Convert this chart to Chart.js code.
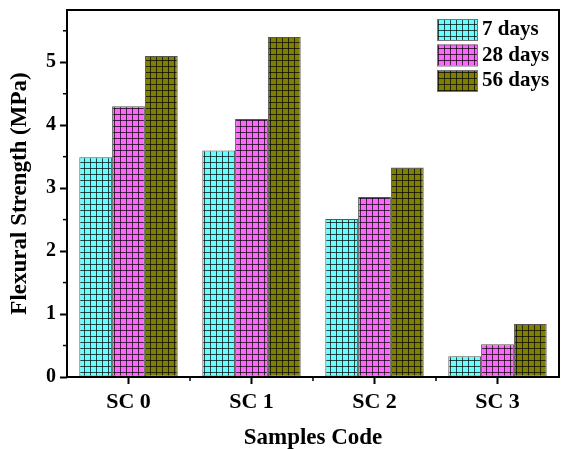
<!DOCTYPE html>
<html>
<head>
<meta charset="utf-8">
<script src="https://cdn.jsdelivr.net/npm/chart.js@4.4.1/dist/chart.umd.min.js"></script>
<style>
html,body{margin:0;padding:0;background:#fff;}
</style>
</head>
<body>
<canvas id="chart" width="561" height="449"></canvas>
<script>
const categories=['SC 0','SC 1','SC 2','SC 3'];
const days7=[3.49,3.60,2.51,0.33];
const days28=[4.30,4.10,2.86,0.52];
const days56=[5.10,5.40,3.33,0.84];
const seriesNames=['7 days','28 days','56 days'];
const yTicks=[0,1,2,3,4,5];
const yMinorTicks=[0.5,1.5,2.5,3.5,4.5,5.5];

const FONT='"Liberation Serif", "Times New Roman", serif';

// grid hatch like the origin plot fill
function gridPattern(fill){
    const c=document.createElement('canvas');
    c.width=6; c.height=6;
    const g=c.getContext('2d');
    g.fillStyle=fill;
    g.fillRect(0,0,6,6);
    g.fillStyle='rgba(0,0,0,0.7)';
    g.fillRect(0,0,6,1);
    g.fillRect(0,0,1,6);
    return document.createElement('canvas').getContext('2d').createPattern(c,'repeat');
}
const fills=[gridPattern('#66ffff'),gridPattern('#ff66ff'),gridPattern('#808000')];

const framePlugin={
    id:'frame',
    afterDraw(chart){
        const {ctx,chartArea:a,scales}=chart;
        ctx.save();
        ctx.strokeStyle='#000';
        ctx.lineWidth=2;
        ctx.strokeRect(a.left,a.top,a.right-a.left,a.bottom-a.top);
        // minor ticks on y
        ctx.lineWidth=1.5;
        yMinorTicks.forEach(v=>{
            const y=scales.y.getPixelForValue(v);
            ctx.beginPath();
            ctx.moveTo(a.left-4,y);
            ctx.lineTo(a.left,y);
            ctx.stroke();
        });
        // minor ticks on x, between the groups
        const step=(a.right-a.left)/categories.length;
        for(let i=1;i<categories.length;i++){
            const x=scales.x.getPixelForValue(i)-step/2;
            ctx.beginPath();
            ctx.moveTo(x,a.bottom);
            ctx.lineTo(x,a.bottom+4);
            ctx.stroke();
        }
        // legend inside the plot, top right
        ctx.font='bold 21px '+FONT;
        ctx.textBaseline='middle';
        ctx.textAlign='left';
        chart.data.datasets.forEach((ds,i)=>{
            const bx=437, by=19+i*25.5;
            ctx.fillStyle=ds.backgroundColor;
            ctx.fillRect(bx,by,40,21);
            ctx.strokeStyle='#777';
            ctx.lineWidth=1;
            ctx.strokeRect(bx+0.5,by+0.5,40,21);
            ctx.fillStyle='#000';
            ctx.fillText(ds.label,482,by+11);
        });
        ctx.restore();
    }
};

const ctx=document.getElementById('chart').getContext('2d');
new Chart(ctx,{
    type:'bar',
    data:{
        labels:categories,
        datasets:[days7,days28,days56].map((d,i)=>({
            label:seriesNames[i],
            data:d,
            backgroundColor:fills[i],
            borderColor:'#555',
            borderWidth:1,
            borderSkipped:false
        }))
    },
    options:{
        responsive:false,
        animation:false,
        layout:{padding:{top:10,right:2,left:0,bottom:0}},
        plugins:{
            legend:{display:false},
            tooltip:{enabled:false}
        },
        datasets:{bar:{barPercentage:1,categoryPercentage:0.8}},
        scales:{
            x:{
                grid:{display:true,drawOnChartArea:false,offset:false,tickLength:7,tickWidth:2,tickColor:'#000'},
                border:{display:false},
                ticks:{color:'#000',padding:5,font:{family:FONT,size:22,weight:'bold'}},
                title:{display:true,text:'Samples Code',color:'#000',padding:{top:14,bottom:-3},font:{family:FONT,size:23,weight:'bold'}},
                afterFit:s=>{s.height=72;}
            },
            y:{
                min:0,
                max:5.83,
                afterBuildTicks:s=>{s.ticks=yTicks.map(v=>({value:v}));},
                grid:{display:true,drawOnChartArea:false,tickLength:7,tickWidth:2,tickColor:'#000'},
                border:{display:false},
                ticks:{color:'#000',padding:4,font:{family:FONT,size:20,weight:'bold'}},
                title:{display:true,text:'Flexural Strength (MPa)',color:'#000',padding:{top:6,bottom:4},font:{family:FONT,size:23,weight:'bold'}},
                afterFit:s=>{s.width=67;s.paddingTop=0;}
            }
        }
    },
    plugins:[framePlugin]
});
</script>
</body>
</html>
